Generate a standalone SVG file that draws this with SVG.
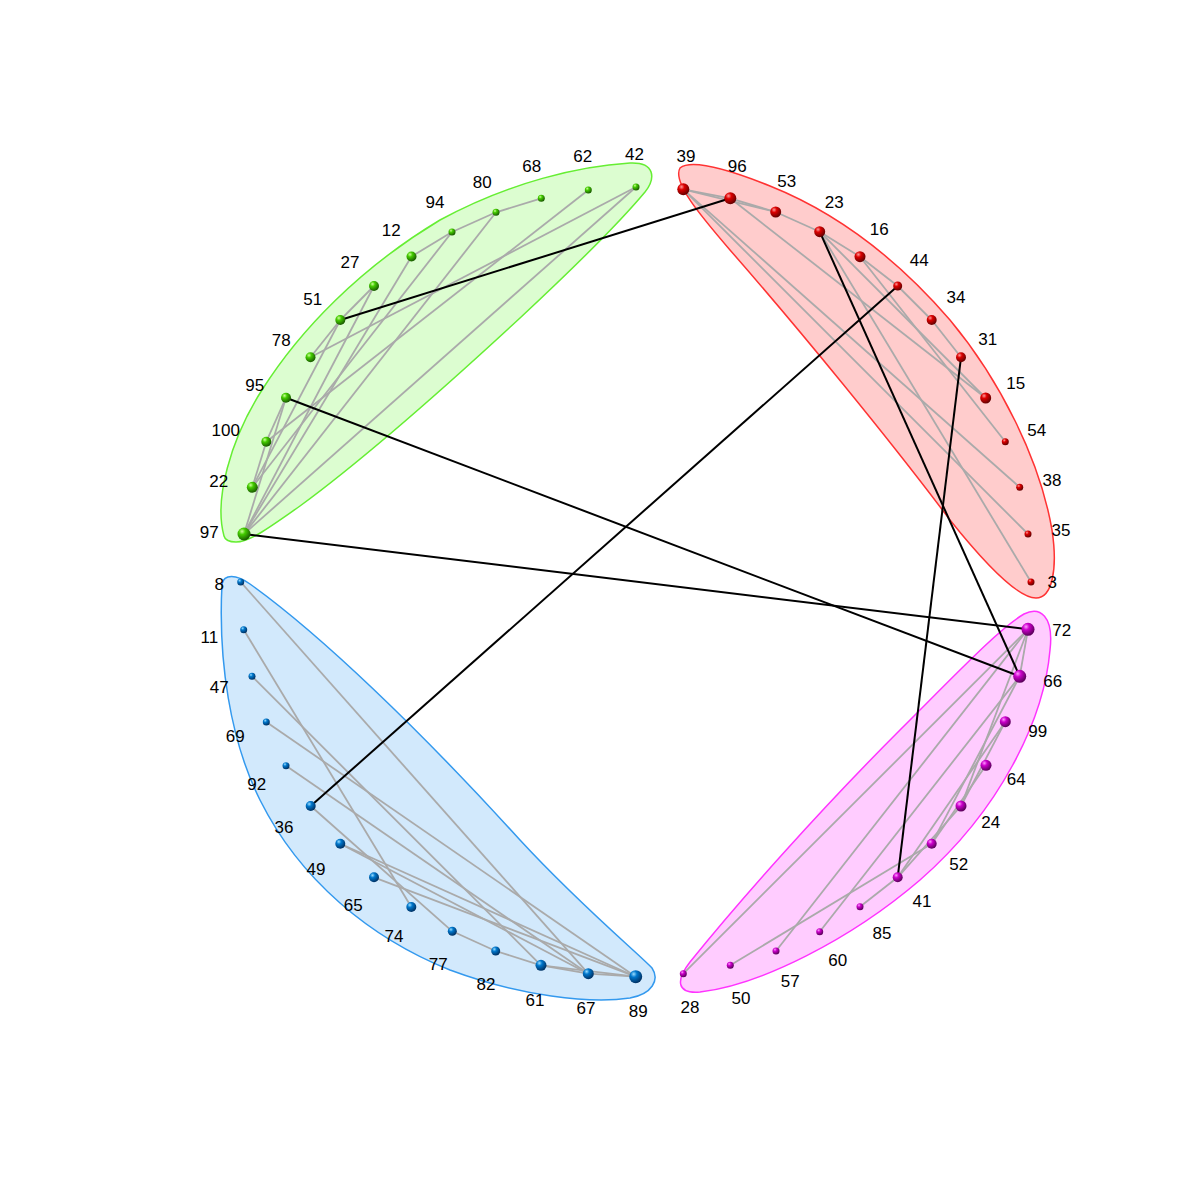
<svg xmlns="http://www.w3.org/2000/svg" width="1200" height="1200" viewBox="0 0 1200 1200">
<defs>
<radialGradient id="gG" cx="0.35" cy="0.3" r="0.7"><stop offset="0" stop-color="#ccff99"/><stop offset="0.35" stop-color="#44cc00"/><stop offset="1" stop-color="#1a5c00"/></radialGradient>
<radialGradient id="gR" cx="0.35" cy="0.3" r="0.7"><stop offset="0" stop-color="#ff9999"/><stop offset="0.35" stop-color="#dd0000"/><stop offset="1" stop-color="#660000"/></radialGradient>
<radialGradient id="gB" cx="0.35" cy="0.3" r="0.7"><stop offset="0" stop-color="#99ddff"/><stop offset="0.35" stop-color="#0077cc"/><stop offset="1" stop-color="#003366"/></radialGradient>
<radialGradient id="gM" cx="0.35" cy="0.3" r="0.7"><stop offset="0" stop-color="#ff99ff"/><stop offset="0.35" stop-color="#cc00cc"/><stop offset="1" stop-color="#5c005c"/></radialGradient>
<style>
.lbl{font-family:"Liberation Sans",Arial,sans-serif;font-size:17px;fill:#000;text-anchor:middle;dominant-baseline:central}
.in{stroke:#aaaaaa;stroke-width:1.8;fill:none}
.out{stroke:#000;stroke-width:2;fill:none}
.hg{fill:#dcfdd0;stroke:#66ee33;stroke-width:1.5}
.hr{fill:#ffcccc;stroke:#ff3333;stroke-width:1.5}
.hb{fill:#d2e9fc;stroke:#3399ee;stroke-width:1.5}
.hm{fill:#ffccff;stroke:#ff33ff;stroke-width:1.5}
.ng{fill:url(#gG)}.nr{fill:url(#gR)}.nb{fill:url(#gB)}.nm{fill:url(#gM)}
</style>
</defs>
<rect width="1200" height="1200" fill="#fff"/>
<g id="hulls">
<path class="hg" d="M224,536 C214,500 230,440 262,390 C300,330 360,268 440,220 C510,182 580,166 630,163 C655,162 656,178 645,192 C620,222 580,262 520,318 C440,392 360,462 300,506 C270,527 250,542 236,542 C228,542 225,540 224,536 Z"/>
<path class="hr" d="M680,168 C690,160 720,166 770,186 C840,214 900,262 950,320 C1000,380 1040,460 1052,530 C1058,570 1052,598 1036,598 C1020,598 990,570 950,520 C890,440 800,330 730,250 C700,215 672,182 680,168 Z"/>
<path class="hb" d="M222,584 C224,574 236,574 250,584 C320,634 420,730 520,840 C580,905 640,955 652,968 C660,980 652,994 630,998 C590,1004 520,996 450,970 C370,938 300,880 260,800 C230,740 218,660 222,584 Z"/>
<path class="hm" d="M1024,614 C1040,606 1054,616 1050,650 C1044,720 1000,810 920,880 C850,940 760,985 700,992 C676,994 676,980 690,962 C740,900 820,810 900,730 C960,670 1000,628 1024,614 Z"/>
</g>
<g id="connectors">
<g class="in">
<line x1="411.5" y1="256.5" x2="452" y2="232"/>
<line x1="452" y1="232" x2="496" y2="212.3"/>
<line x1="496" y1="212.3" x2="541.3" y2="198.3"/>
<line x1="636" y1="187" x2="310.5" y2="357.3"/>
<line x1="588.3" y1="190" x2="266.3" y2="441.7"/>
<line x1="496" y1="212.3" x2="244" y2="534"/>
<line x1="452" y1="232" x2="252.3" y2="487.3"/>
<line x1="411.5" y1="256.5" x2="244" y2="534"/>
<line x1="374" y1="286" x2="340.3" y2="320"/>
<line x1="374" y1="286" x2="244" y2="534"/>
<line x1="340.3" y1="320" x2="310.5" y2="357.3"/>
<line x1="340.3" y1="320" x2="252.3" y2="487.3"/>
<line x1="286" y1="397.7" x2="266.3" y2="441.7"/>
<line x1="266.3" y1="441.7" x2="252.3" y2="487.3"/>
<line x1="286" y1="397.7" x2="244" y2="534"/>
<line x1="636" y1="187" x2="244" y2="534"/>

<line x1="683.3" y1="189.3" x2="730.3" y2="198.3"/>
<line x1="730.3" y1="198.3" x2="775.7" y2="212"/>
<line x1="683.3" y1="189.3" x2="775.7" y2="212"/>
<line x1="775.7" y1="212" x2="819.7" y2="231.7"/>
<line x1="819.7" y1="231.7" x2="860" y2="256.7"/>
<line x1="860" y1="256.7" x2="897.7" y2="286"/>
<line x1="897.7" y1="286" x2="931.7" y2="320"/>
<line x1="931.7" y1="320" x2="961" y2="357.3"/>
<line x1="683.3" y1="189.3" x2="1019.7" y2="487.3"/>
<line x1="683.3" y1="189.3" x2="1028" y2="534"/>
<line x1="730.3" y1="198.3" x2="985.7" y2="398"/>
<line x1="819.7" y1="231.7" x2="985.7" y2="398"/>
<line x1="860" y1="256.7" x2="1005.3" y2="441.7"/>
<line x1="819.7" y1="231.7" x2="1031" y2="582"/>

<line x1="240.7" y1="582" x2="588.3" y2="973.7"/>
<line x1="243.7" y1="629.7" x2="411.3" y2="907"/>
<line x1="252" y1="676.3" x2="541" y2="965.3"/>
<line x1="266.3" y1="722" x2="635.7" y2="976.7"/>
<line x1="286" y1="765.7" x2="588.3" y2="973.7"/>
<line x1="310.7" y1="806" x2="452.3" y2="931.3"/>
<line x1="340.3" y1="843.7" x2="635.7" y2="976.7"/>
<line x1="340.3" y1="843.7" x2="588.3" y2="973.7"/>
<line x1="374" y1="877.3" x2="635.7" y2="976.7"/>
<line x1="452.3" y1="931.3" x2="495.7" y2="951"/>
<line x1="495.7" y1="951" x2="541" y2="965.3"/>
<line x1="541" y1="965.3" x2="588.3" y2="973.7"/>
<line x1="541" y1="965.3" x2="635.7" y2="976.7"/>
<line x1="588.3" y1="973.7" x2="635.7" y2="976.7"/>

<line x1="1028" y1="629.3" x2="1019.7" y2="676.3"/>
<line x1="1028" y1="629.3" x2="683.3" y2="973.7"/>
<line x1="1028" y1="629.3" x2="776" y2="951"/>
<line x1="1028" y1="629.3" x2="961" y2="806"/>
<line x1="1019.7" y1="676.3" x2="819.7" y2="931.7"/>
<line x1="1019.7" y1="676.3" x2="931.7" y2="843.7"/>
<line x1="1005.3" y1="721.7" x2="897.7" y2="877.3"/>
<line x1="1005.3" y1="721.7" x2="961" y2="806"/>
<line x1="986" y1="765.3" x2="931.7" y2="843.7"/>
<line x1="931.7" y1="843.7" x2="730.3" y2="965.3"/>
<line x1="897.7" y1="877.3" x2="860" y2="906.7"/>
<line x1="897.7" y1="877.3" x2="961" y2="806"/>
</g>
<g class="out">
<line x1="730.3" y1="198.3" x2="340.3" y2="320"/>
<line x1="819.7" y1="231.7" x2="1019.7" y2="676.3"/>
<line x1="897.7" y1="286" x2="310.7" y2="806"/>
<line x1="961" y1="357.3" x2="897.7" y2="877.3"/>
<line x1="286" y1="397.7" x2="1019.7" y2="676.3"/>
<line x1="244" y1="534" x2="1028" y2="629.3"/>
</g>
</g>
<g id="nodes">
<g id="n42"><circle class="ng" cx="636" cy="187" r="3.5"/><text class="lbl" x="634.5" y="154">42</text></g>
<g id="n62"><circle class="ng" cx="588.3" cy="190" r="3.5"/><text class="lbl" x="582.7" y="156.7">62</text></g>
<g id="n68"><circle class="ng" cx="541.3" cy="198.3" r="3.5"/><text class="lbl" x="531.7" y="166">68</text></g>
<g id="n80"><circle class="ng" cx="496" cy="212.3" r="3.5"/><text class="lbl" x="482.3" y="182">80</text></g>
<g id="n94"><circle class="ng" cx="452" cy="232" r="3.5"/><text class="lbl" x="435" y="202.7">94</text></g>
<g id="n12"><circle class="ng" cx="411.5" cy="256.5" r="5"/><text class="lbl" x="391.3" y="230.7">12</text></g>
<g id="n27"><circle class="ng" cx="374" cy="286" r="5"/><text class="lbl" x="350" y="262.7">27</text></g>
<g id="n51"><circle class="ng" cx="340.3" cy="320" r="5"/><text class="lbl" x="312.7" y="299">51</text></g>
<g id="n78"><circle class="ng" cx="310.5" cy="357.3" r="5"/><text class="lbl" x="281.3" y="340">78</text></g>
<g id="n95"><circle class="ng" cx="286" cy="397.7" r="5"/><text class="lbl" x="254.7" y="385">95</text></g>
<g id="n100"><circle class="ng" cx="266.3" cy="441.7" r="5"/><text class="lbl" x="225.7" y="430">100</text></g>
<g id="n22"><circle class="ng" cx="252.3" cy="487.3" r="5.5"/><text class="lbl" x="218.7" y="481.7">22</text></g>
<g id="n97"><circle class="ng" cx="244" cy="534" r="6.5"/><text class="lbl" x="209.3" y="532.7">97</text></g>

<g id="n39"><circle class="nr" cx="683.3" cy="189.3" r="6"/><text class="lbl" x="686" y="156.7">39</text></g>
<g id="n96"><circle class="nr" cx="730.3" cy="198.3" r="6"/><text class="lbl" x="737.3" y="166">96</text></g>
<g id="n53"><circle class="nr" cx="775.7" cy="212" r="5.5"/><text class="lbl" x="786.7" y="181">53</text></g>
<g id="n23"><circle class="nr" cx="819.7" cy="231.7" r="5.5"/><text class="lbl" x="834.3" y="202">23</text></g>
<g id="n16"><circle class="nr" cx="860" cy="256.7" r="5.5"/><text class="lbl" x="879.3" y="229">16</text></g>
<g id="n44"><circle class="nr" cx="897.7" cy="286" r="4.5"/><text class="lbl" x="919.3" y="260.7">44</text></g>
<g id="n34"><circle class="nr" cx="931.7" cy="320" r="5"/><text class="lbl" x="956" y="297.7">34</text></g>
<g id="n31"><circle class="nr" cx="961" cy="357.3" r="5"/><text class="lbl" x="987.7" y="339">31</text></g>
<g id="n15"><circle class="nr" cx="985.7" cy="398" r="5.5"/><text class="lbl" x="1015.7" y="383">15</text></g>
<g id="n54"><circle class="nr" cx="1005.3" cy="441.7" r="3.5"/><text class="lbl" x="1036.7" y="430">54</text></g>
<g id="n38"><circle class="nr" cx="1019.7" cy="487.3" r="3.5"/><text class="lbl" x="1052" y="480">38</text></g>
<g id="n35"><circle class="nr" cx="1028" cy="534" r="3.5"/><text class="lbl" x="1061" y="530.7">35</text></g>
<g id="n3"><circle class="nr" cx="1031" cy="582" r="3.5"/><text class="lbl" x="1052.3" y="582.7">3</text></g>

<g id="n8"><circle class="nb" cx="240.7" cy="582" r="3.5"/><text class="lbl" x="219.3" y="584">8</text></g>
<g id="n11"><circle class="nb" cx="243.7" cy="629.7" r="3.5"/><text class="lbl" x="209.3" y="637.3">11</text></g>
<g id="n47"><circle class="nb" cx="252" cy="676.3" r="3.5"/><text class="lbl" x="219.3" y="687.7">47</text></g>
<g id="n69"><circle class="nb" cx="266.3" cy="722" r="3.5"/><text class="lbl" x="235.3" y="736.7">69</text></g>
<g id="n92"><circle class="nb" cx="286" cy="765.7" r="3.5"/><text class="lbl" x="256.7" y="784">92</text></g>
<g id="n36"><circle class="nb" cx="310.7" cy="806" r="5"/><text class="lbl" x="284" y="827.7">36</text></g>
<g id="n49"><circle class="nb" cx="340.3" cy="843.7" r="5"/><text class="lbl" x="316" y="869">49</text></g>
<g id="n65"><circle class="nb" cx="374" cy="877.3" r="5"/><text class="lbl" x="353.3" y="905">65</text></g>
<g id="n74"><circle class="nb" cx="411.3" cy="907" r="5"/><text class="lbl" x="394" y="936.7">74</text></g>
<g id="n77"><circle class="nb" cx="452.3" cy="931.3" r="4.5"/><text class="lbl" x="438.3" y="964">77</text></g>
<g id="n82"><circle class="nb" cx="495.7" cy="951" r="4.5"/><text class="lbl" x="486" y="984.3">82</text></g>
<g id="n61"><circle class="nb" cx="541" cy="965.3" r="5.5"/><text class="lbl" x="535" y="1000">61</text></g>
<g id="n67"><circle class="nb" cx="588.3" cy="973.7" r="5.5"/><text class="lbl" x="586" y="1008.7">67</text></g>
<g id="n89"><circle class="nb" cx="635.7" cy="976.7" r="6.5"/><text class="lbl" x="638.3" y="1011.7">89</text></g>

<g id="n72"><circle class="nm" cx="1028" cy="629.3" r="6.5"/><text class="lbl" x="1061.7" y="630.3">72</text></g>
<g id="n66"><circle class="nm" cx="1019.7" cy="676.3" r="6.5"/><text class="lbl" x="1052.7" y="681">66</text></g>
<g id="n99"><circle class="nm" cx="1005.3" cy="721.7" r="5.5"/><text class="lbl" x="1037.7" y="731">99</text></g>
<g id="n64"><circle class="nm" cx="986" cy="765.3" r="5.5"/><text class="lbl" x="1016.3" y="779">64</text></g>
<g id="n24"><circle class="nm" cx="961" cy="806" r="5.5"/><text class="lbl" x="990.7" y="822.7">24</text></g>
<g id="n52"><circle class="nm" cx="931.7" cy="843.7" r="5"/><text class="lbl" x="958.7" y="864">52</text></g>
<g id="n41"><circle class="nm" cx="897.7" cy="877.3" r="5"/><text class="lbl" x="922" y="901">41</text></g>
<g id="n85"><circle class="nm" cx="860" cy="906.7" r="3.5"/><text class="lbl" x="882" y="933.3">85</text></g>
<g id="n60"><circle class="nm" cx="819.7" cy="931.7" r="3.5"/><text class="lbl" x="837.7" y="960.7">60</text></g>
<g id="n57"><circle class="nm" cx="776" cy="951" r="3.5"/><text class="lbl" x="790.3" y="981.7">57</text></g>
<g id="n50"><circle class="nm" cx="730.3" cy="965.3" r="3.5"/><text class="lbl" x="741" y="998">50</text></g>
<g id="n28"><circle class="nm" cx="683.3" cy="973.7" r="3.5"/><text class="lbl" x="690" y="1007.3">28</text></g>
</g>
</svg>
